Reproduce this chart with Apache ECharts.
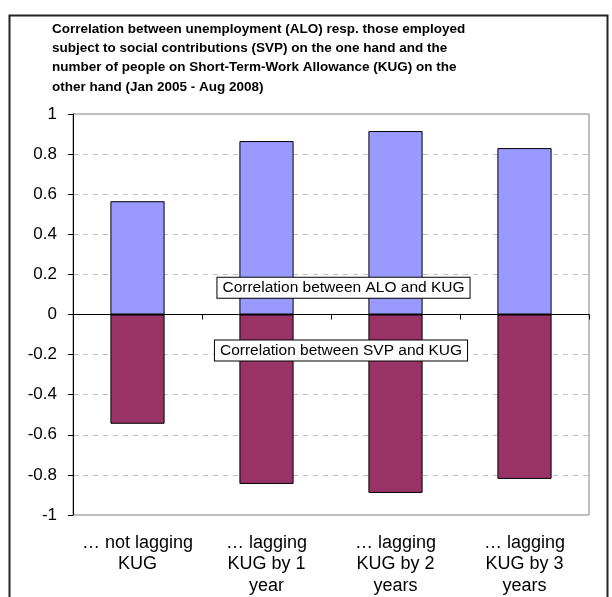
<!DOCTYPE html>
<html>
<head>
<meta charset="utf-8">
<script src="https://cdn.jsdelivr.net/npm/echarts@6/dist/echarts.min.js"></script>
<style>html,body{margin:0;padding:0;background:#fff}#c{width:612px;height:597px}</style>
</head>
<body>
<div id="c"></div>
<script>
var categories = ['… not lagging\nKUG', '… lagging\nKUG by 1\nyear', '… lagging\nKUG by 2\nyears', '… lagging\nKUG by 3\nyears'];
var aloKug = [0.565, 0.865, 0.915, 0.83];
var svpKug = [-0.545, -0.845, -0.89, -0.82];
var yTicks = [-1, -0.8, -0.6, -0.4, -0.2, 0, 0.2, 0.4, 0.6, 0.8, 1];
var titleText = 'Correlation between unemployment (ALO) resp. those employed\nsubject to social contributions (SVP) on the one hand and the\nnumber of people on Short-Term-Work Allowance (KUG) on the\nother hand (Jan 2005 - Aug 2008)';
var label1 = 'Correlation between ALO and KUG';
var label2 = 'Correlation between SVP and KUG';

var FONT = 'Liberation Sans, Arial, sans-serif';
var chart = echarts.init(document.getElementById('c'));
var option = {
  animation: false,
  backgroundColor: '#fff',
  title: {
    text: titleText,
    left: 52, top: 19.5, padding: 0,
    textStyle: {fontFamily: FONT, fontSize: 13.5, fontWeight: 'bold', color: '#000', lineHeight: 19.3}
  },
  grid: {left: 73, right: 23, top: 114, bottom: 82, show: true, borderColor: '#808080', borderWidth: 1, backgroundColor: '#fff'},
  xAxis: [{
    type: 'category', data: categories, position: 'bottom',
    axisLine: {show: false, onZero: false}, axisTick: {show: false},
    axisLabel: {fontFamily: FONT, fontSize: 18, color: '#000', lineHeight: 21.5, margin: 17, interval: 0}
  }, {
    type: 'category', data: categories, position: 'bottom',
    axisLine: {show: true, onZero: true, onZeroAxisIndex: 0, lineStyle: {color: '#000', width: 1}},
    axisTick: {show: true, length: 5, inside: false, lineStyle: {color: '#000'}},
    axisLabel: {show: false}
  }],
  yAxis: {
    type: 'value', min: -1, max: 1, interval: 0.2,
    axisLine: {show: true, lineStyle: {color: '#000'}},
    axisTick: {show: true, length: 5, lineStyle: {color: '#000'}},
    axisLabel: {fontFamily: FONT, fontSize: 17, color: '#000', margin: 16,
      formatter: function (v) { return String(Math.round(v * 10) / 10); }},
    splitLine: {show: true, lineStyle: {color: '#c0c0c0', type: [5, 5], width: 1}}
  },
  series: [{
    name: label1, type: 'bar', data: aloKug, xAxisIndex: 0, barWidth: '42%', barGap: '-100%',
    itemStyle: {color: '#9999FF', borderColor: '#000', borderWidth: 1}
  }, {
    name: label2, type: 'bar', data: svpKug, xAxisIndex: 0, barWidth: '42%', barGap: '-100%',
    itemStyle: {color: '#993366', borderColor: '#000', borderWidth: 1}
  }]
};
chart.setOption(option);
var y1 = chart.convertToPixel({yAxisIndex: 0}, 0.134);
var y2 = chart.convertToPixel({yAxisIndex: 0}, -0.18);
chart.setOption({
  graphic: [{
    type: 'rect', left: 7, top: 13, shape: {width: 598, height: 620}, z: 100,
    style: {fill: 'none', stroke: '#222', lineWidth: 2}
  }, {
    type: 'text', x: 343.5, y: y1, z: 100,
    style: {text: label1, font: '15.5px ' + FONT, fill: '#000', align: 'center', verticalAlign: 'middle',
      backgroundColor: '#fff', borderColor: '#000', borderWidth: 1, padding: [2, 5, 2, 5]}
  }, {
    type: 'text', x: 341, y: y2, z: 100,
    style: {text: label2, font: '15.5px ' + FONT, fill: '#000', align: 'center', verticalAlign: 'middle',
      backgroundColor: '#fff', borderColor: '#000', borderWidth: 1, padding: [2, 5, 2, 5]}
  }]
});
</script>
</body>
</html>
